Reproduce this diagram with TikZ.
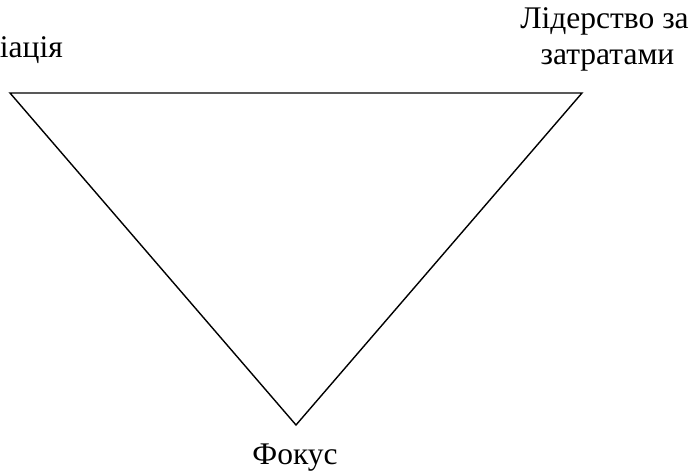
\documentclass[tikz,border=0pt]{standalone}
\usepackage{fontspec}
\setmainfont{Liberation Serif}
\begin{document}
\begin{tikzpicture}[x=1pt,y=1pt,
  lbl/.style={font=\fontsize{31.5}{36}\selectfont, inner sep=0pt, anchor=base}]
\useasboundingbox (0,0) rectangle (696,471);
\coordinate (A) at (10,378);
\coordinate (B) at (582,378);
\coordinate (C) at (296,46);
\draw[line width=1.4pt, line join=miter] (A) -- (B) -- (C) -- cycle;
\node[lbl, anchor=base east] (dif) at (63,413) {Диференціація};
\node[lbl] (lid1) at (604.5,442) {Лідерство за};
\node[lbl] (lid2) at (607.5,406) {затратами};
\node[lbl] (fok) at (295,6) {Фокус};
\end{tikzpicture}
\end{document}
